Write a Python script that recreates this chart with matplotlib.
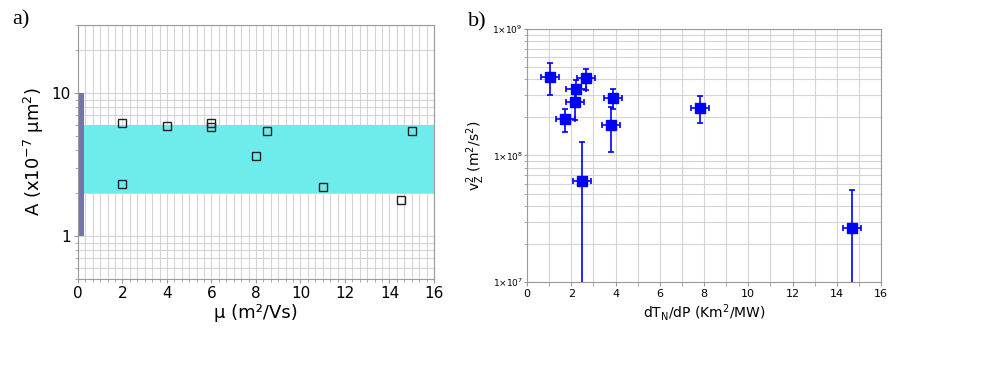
import numpy as np
import matplotlib
matplotlib.use("Agg")
import matplotlib.pyplot as plt
from matplotlib.ticker import FixedLocator, FixedFormatter, LogLocator, NullFormatter

# panel a: mobility vs A
mu = [2, 2, 4, 6, 6, 8, 8.5, 11, 14.5, 15]
A = [6.15, 2.3, 5.9, 6.2, 5.75, 3.65, 5.4, 2.2, 1.8, 5.4]
band_lo, band_hi = 2.0, 6.0
bar_lo, bar_hi = 1.0, 10.0

# panel b: dT_N/dP vs v_z^2
dtdp = [1.05, 2.68, 2.21, 2.18, 1.73, 3.87, 3.81, 2.50, 7.83, 14.68]
dtdp_err = [0.4, 0.4, 0.44, 0.41, 0.43, 0.41, 0.41, 0.41, 0.41, 0.4]
vz2 = [4.2e8, 4.07e8, 3.37e8, 2.63e8, 1.93e8, 2.83e8, 1.73e8, 6.3e7, 2.37e8, 2.66e7]
vz2_hi = [5.4e8, 4.8e8, 3.95e8, 3.1e8, 2.35e8, 3.33e8, 2.4e8, 1.27e8, 2.93e8, 5.37e7]
vz2_lo = [3.0e8, 3.3e8, 2.8e8, 1.9e8, 1.52e8, 2.35e8, 1.07e8, 1e6, 1.82e8, 1e6]

grid_c = '#d4d4d4'
spine_c = '#9a9a9a'

fig = plt.figure(figsize=(9.81, 3.67), dpi=100)

# ---- a) ----
ax1 = fig.add_axes([0.0795, 0.2398, 0.3629, 0.692])
ax1.set_yscale('log')
ax1.set_xlim(0, 16)
ax1.set_ylim(0.5, 30)
ax1.axhspan(band_lo, band_hi, xmin=0, xmax=1, color='#6eebeb', zorder=1, lw=0)
ax1.fill_betweenx([bar_lo, bar_hi], 0, 0.28, color='#7474a8', zorder=2, lw=0)
ax1.plot(mu, A, ls='none', marker='s', ms=6, mfc='none', mec='#222222', mew=1.0, zorder=3)

ax1.xaxis.set_major_locator(FixedLocator(np.arange(0, 17, 2)))
ax1.xaxis.set_minor_locator(FixedLocator(np.arange(0, 16.01, 1/3)))
ax1.yaxis.set_major_locator(FixedLocator([1, 10]))
ax1.yaxis.set_major_formatter(FixedFormatter(['1', '10']))
ax1.yaxis.set_minor_locator(LogLocator(base=10, subs=np.arange(2, 10)))
ax1.yaxis.set_minor_formatter(NullFormatter())
ax1.grid(True, which='both', color=grid_c, lw=0.8, zorder=0)
ax1.set_axisbelow(True)
ax1.tick_params(which='both', direction='out', color=spine_c, length=3, labelsize=11, pad=2)
ax1.tick_params(which='minor', length=2)
for s in ax1.spines.values():
    s.set_color(spine_c)
ax1.set_xlabel('μ (m²/Vs)', fontsize=13, labelpad=2)
ax1.set_ylabel(r'A (x10$\mathregular{^{-7}}$ μm$\mathregular{^2}$)', fontsize=13, labelpad=4)

# ---- b) ----
ax2 = fig.add_axes([0.5372, 0.2316, 0.3609, 0.6894])
ax2.set_yscale('log')
ax2.set_xlim(0, 16)
ax2.set_ylim(1e7, 1e9)
yerr = [np.array(vz2) - np.array(vz2_lo), np.array(vz2_hi) - np.array(vz2)]
ax2.errorbar(dtdp, vz2, xerr=dtdp_err, yerr=yerr, fmt='s', color='#0000ff',
             ms=7.5, elinewidth=1.2, capsize=2, capthick=1.2, zorder=3)

ax2.xaxis.set_major_locator(FixedLocator(np.arange(0, 17, 2)))
ax2.xaxis.set_minor_locator(FixedLocator(np.arange(0, 17, 1)))
ax2.yaxis.set_major_locator(FixedLocator([1e7, 1e8, 1e9]))
ax2.yaxis.set_major_formatter(FixedFormatter([r'1×10$\mathregular{^7}$', r'1×10$\mathregular{^8}$',
                                              r'1×10$\mathregular{^9}$']))
ax2.yaxis.set_minor_locator(LogLocator(base=10, subs=np.arange(2, 10)))
ax2.yaxis.set_minor_formatter(NullFormatter())
ax2.grid(True, which='both', color=grid_c, lw=0.8, zorder=0)
ax2.set_axisbelow(True)
ax2.tick_params(axis='x', which='both', direction='out', color=spine_c, length=3, labelsize=8, pad=2)
ax2.tick_params(axis='y', which='both', direction='out', color=spine_c, length=2, labelsize=6.5, pad=1)
for s in ax2.spines.values():
    s.set_color(spine_c)
ax2.set_xlabel(r'dT$\mathregular{_N}$/dP (Km$\mathregular{^2}$/MW)', fontsize=10, labelpad=2)
ax2.set_ylabel(r'v$\mathregular{_Z^2}$ (m$\mathregular{^2}$/s$\mathregular{^2}$)', fontsize=10, labelpad=4)

fig.text(0.012, 0.945, 'a)', fontsize=16, family='Liberation Serif', va='center')
fig.text(0.477, 0.94, 'b)', fontsize=16, family='Liberation Serif', va='center')

fig.savefig('out.png', dpi=100)
